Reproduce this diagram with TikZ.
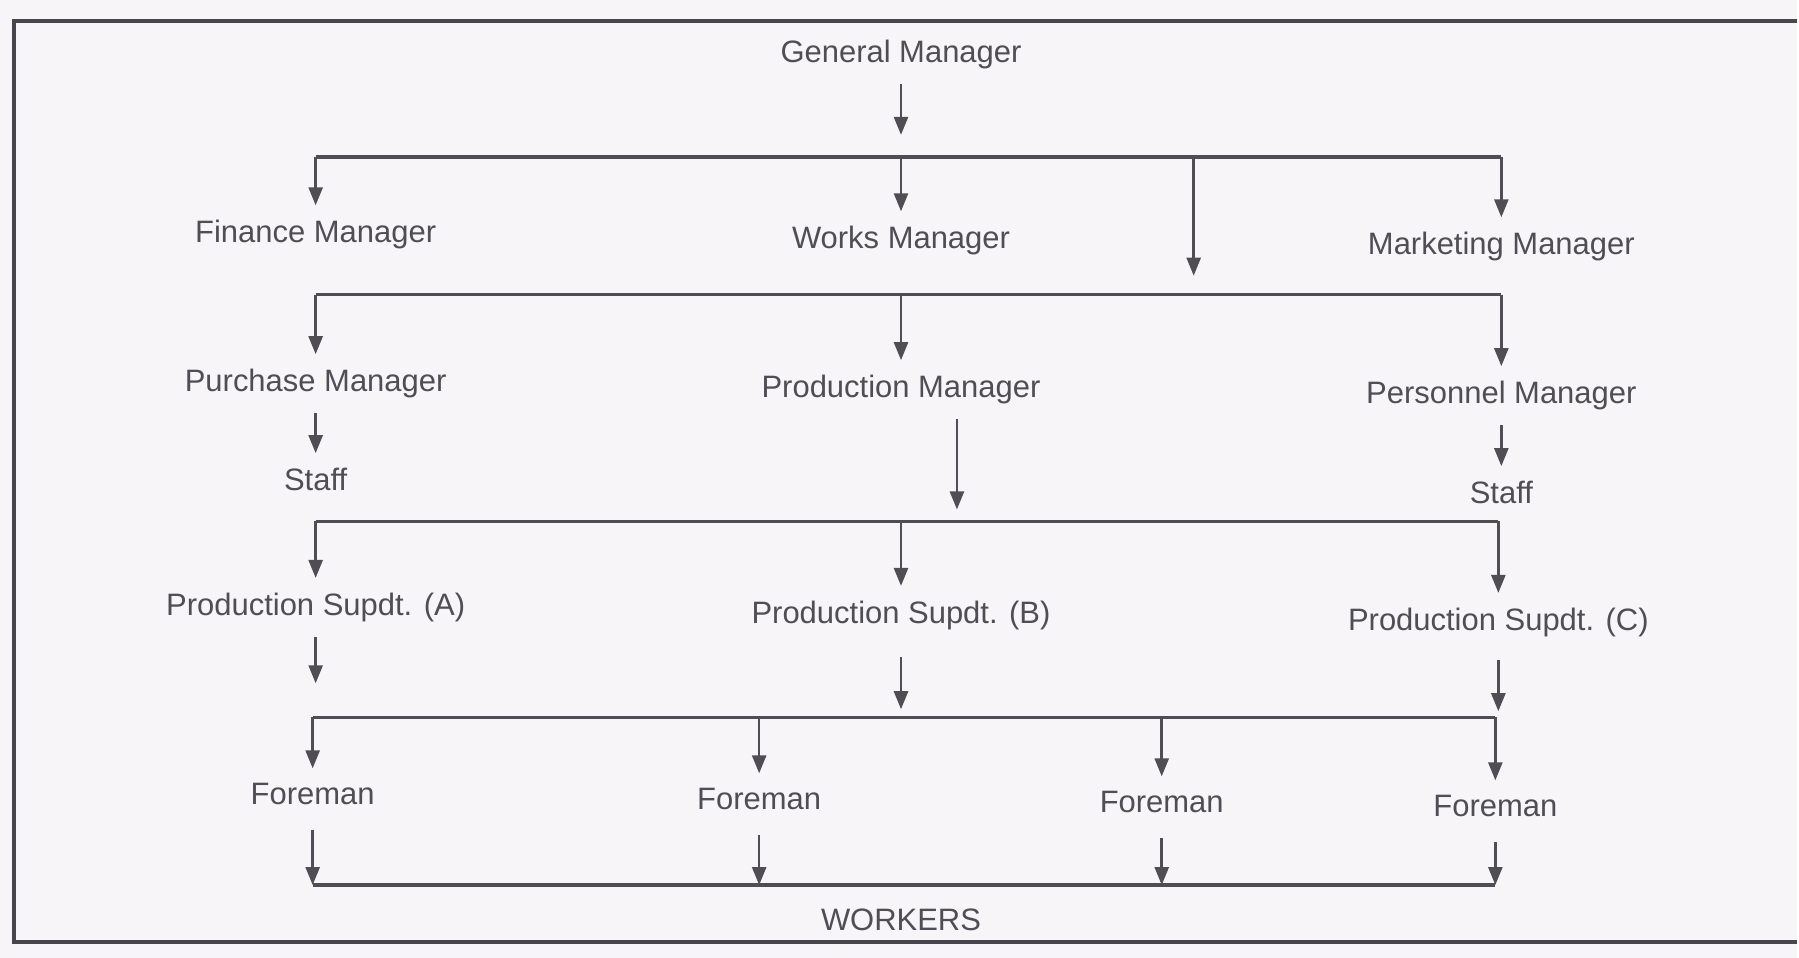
\documentclass[tikz,border=0pt]{standalone}
\usepackage{fontspec}
\setmainfont{Liberation Sans}
\usetikzlibrary{arrows.meta}

\definecolor{paper}{RGB}{248,245,249}
\definecolor{ink}{RGB}{78,78,84}

\begin{document}
\begin{tikzpicture}[x=1pt, y=-1pt,
        post/.style={text=ink, font=\fontsize{31}{36}\selectfont, inner sep=1pt, outer sep=14pt},
        link/.style={draw=ink, line width=3.4pt},
        arr/.style={draw=ink, line width=2.6pt, -{Triangle[length=18pt, width=14pt]}},
        frame/.style={draw=ink!90!black, line width=4pt}]

        % Paper and frame
        \fill[paper] (0,0) rectangle (1799,959);
        \draw[frame] (1799,21) -- (14,21) -- (14,943) -- (1799,943);

        % Bus bars (middle points)
        \coordinate (bus1) at (902,157);
        \coordinate (bus2) at (902,295);
        \coordinate (bus3) at (902,522);
        \coordinate (bus4) at (902,718);
        \coordinate (bus5) at (902,886);
        \coordinate (spare) at (1195,276); % arrow with no post under it

        % Posts
        \node[post] (gm)     at (902,55)   {General Manager};
        \node[post] (fin)    at (316,235)  {Finance Manager};
        \node[post] (works)  at (902,241)  {Works Manager};
        \node[post] (mkt)    at (1503,247) {Marketing Manager};
        \node[post] (pur)    at (316,384)  {Purchase Manager};
        \node[post] (prod)   at (902,390)  {Production Manager};
        \node[post] (pers)   at (1503,396) {Personnel Manager};
        \node[post] (staffL) at (316,480)  {Staff};
        \node[post] (staffR) at (1503,493) {Staff};
        \node[post] (supA)   at (316,608)  {Production Supdt. (A)};
        \node[post] (supB)   at (902,616)  {Production Supdt. (B)};
        \node[post] (supC)   at (1500,623) {Production Supdt. (C)};
        \foreach[count=\i] \x/\y in {313/795, 760/800, 1163/803, 1497/807}{
            \node[post] (fm-\i) at (\x,\y) {Foreman};
        }
        \node[post] (workers) at (902,921) {WORKERS};

        % General Manager to the heads
        \draw[arr, shorten >=22pt] (gm) -- (gm |- bus1);
        \draw[link] (fin |- bus1) -- (mkt |- bus1);
        \foreach \n in {fin, works, mkt}{
            \draw[arr] (\n |- bus1) -- (\n);
        }
        \draw[arr] (spare |- bus1) -- (spare);

        % Works Manager to the managers
        \draw[link] (pur |- bus2) -- (pers |- bus2);
        \foreach \n in {pur, prod, pers}{
            \draw[arr] (\n |- bus2) -- (\n);
        }
        \draw[arr] (pur) -- (staffL);
        \draw[arr] (pers) -- (staffR);

        % Production Manager to the superintendents
        \draw[arr, shorten >=12pt] ([xshift=56pt]prod.south) -- ([xshift=56pt]prod.south |- bus3);
        \draw[link] (supA |- bus3) -- (supC |- bus3);
        \foreach \n in {supA, supB, supC}{
            \draw[arr] (\n |- bus3) -- (\n);
        }

        % Superintendents to the foremen
        \draw[arr, shorten >=34pt] (supA) -- (supA |- bus4);
        \draw[arr, shorten >=8pt] ([yshift=-12pt]supB.south) -- (supB |- bus4);
        \draw[arr, shorten >=6pt] ([yshift=-8pt]supC.south) -- (supC |- bus4);
        \draw[link] (fm-1 |- bus4) -- (fm-4 |- bus4);
        \foreach \i in {1,...,4}{
            \draw[arr] (fm-\i |- bus4) -- (fm-\i);
            \draw[arr] ([yshift=-10pt]fm-\i.south) -- (fm-\i |- bus5);
        }

        % Foremen to the workers
        \draw[link] (fm-1 |- bus5) -- (fm-4 |- bus5);
    \end{tikzpicture}
\end{document}
